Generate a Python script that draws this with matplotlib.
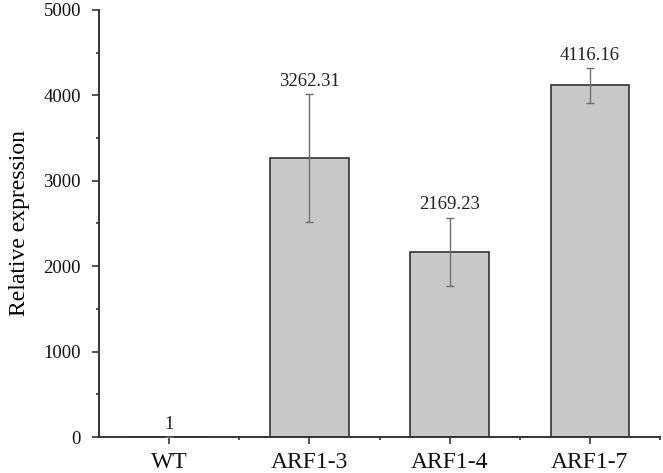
import matplotlib
matplotlib.use("Agg")
import matplotlib.pyplot as plt
from matplotlib.ticker import MultipleLocator, FixedLocator

categories = ["WT", "ARF1-3", "ARF1-4", "ARF1-7"]
values = [1, 3262.31, 2169.23, 4116.16]
errors = [0, 750, 400, 200]
labels = ["1", "3262.31", "2169.23", "4116.16"]

plt.rcParams['font.family'] = ['Liberation Serif', 'DejaVu Serif']

fig = plt.figure(figsize=(6.63, 4.73), dpi=100)
ax = fig.add_axes([99/663, 36/473, 561/663, 427/473])

x = list(range(len(categories)))
ax.bar(x, values, width=0.56, color="#c8c8c8", edgecolor="#333333", linewidth=1.2, zorder=2)
ax.errorbar(x, values, yerr=errors, fmt="none", ecolor="#6e6e6e", elinewidth=1.0,
            capsize=3, capthick=1.0, zorder=3)
for xi, v, e, lab in zip(x, values, errors, labels):
    ax.annotate(lab, (xi, v + e), xytext=(0, 3), textcoords="offset points",
                ha="center", va="bottom", fontsize=13.5, color="#222222")

ax.set_xlim(-0.5, 3.5)
ax.set_ylim(0, 5000)
ax.set_xticks(x)
ax.set_xticklabels(categories, fontsize=17)
ax.xaxis.set_minor_locator(FixedLocator([0.5, 1.5, 2.5, 3.5]))
ax.yaxis.set_major_locator(MultipleLocator(1000))
ax.yaxis.set_minor_locator(MultipleLocator(500))
ax.tick_params(axis="y", labelsize=13.5, direction="out", length=5, width=1.2, colors="#333333",
               labelcolor="#111111", pad=8)
ax.tick_params(axis="x", direction="out", length=5, width=1.2, colors="#333333", labelcolor="#111111", pad=6)
ax.tick_params(which="minor", direction="out", length=2.5, width=1.2, colors="#333333")
ax.set_ylabel("Relative expression", fontsize=17, labelpad=10)

for s in ["top", "right"]:
    ax.spines[s].set_visible(False)
for s in ["left", "bottom"]:
    ax.spines[s].set_linewidth(1.4)
    ax.spines[s].set_color("#333333")

fig.savefig("out.png", dpi=100)
